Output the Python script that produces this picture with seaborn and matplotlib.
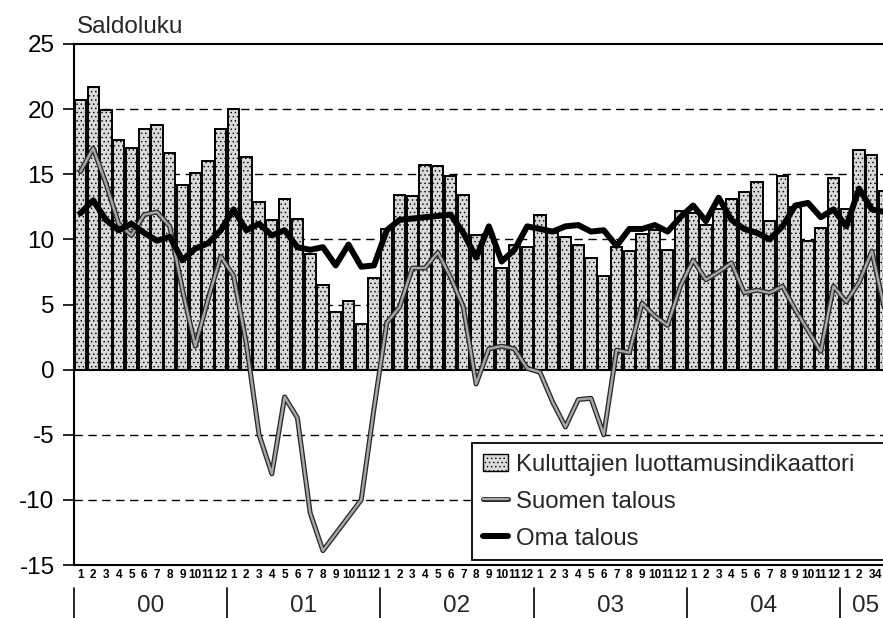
import numpy as np
import pandas as pd
import matplotlib
matplotlib.use('Agg')
import matplotlib.pyplot as plt
import matplotlib.patches as mpatches
import matplotlib.patheffects as pe
import matplotlib.transforms as mtransforms
from matplotlib.lines import Line2D
import seaborn as sns

# kuukausittaiset saldoluvut 1/2000 - 4/2005
years = ['00', '01', '02', '03', '04', '05']
months_per_year = [12, 12, 12, 12, 12, 4]
month_labels = [str(m) for n in months_per_year for m in range(1, n + 1)]

kuluttajat = [20.7, 21.7, 19.9, 17.6, 17.0, 18.5, 18.8, 16.6, 14.2, 15.1, 16.0, 18.5,
              20.0, 16.3, 12.9, 11.5, 13.1, 11.6, 8.9, 6.5, 4.4, 5.3, 3.5, 7.0,
              10.8, 13.4, 13.3, 15.7, 15.6, 14.9, 13.4, 10.3, 10.4, 7.8, 9.6, 9.4,
              11.9, 10.5, 10.2, 9.6, 8.6, 7.2, 9.4, 9.1, 10.4, 10.7, 9.2, 12.2,
              12.0, 11.1, 12.3, 13.1, 13.6, 14.4, 11.4, 14.9, 12.5, 9.9, 10.9, 14.7,
              12.3, 16.9, 16.5, 13.7]

suomen_talous = [15.2, 17.0, 14.3, 11.2, 10.3, 11.9, 12.1, 11.0, 6.1, 1.8, 5.4, 8.7,
                 7.2, 2.0, -5.0, -8.0, -2.1, -3.7, -11.0, -13.9, -12.6, -11.3, -10.0, -3.0,
                 3.6, 4.8, 7.8, 7.8, 9.0, 7.1, 4.8, -1.1, 1.6, 1.8, 1.6, 0.1,
                 -0.2, -2.5, -4.4, -2.3, -2.2, -5.0, 1.5, 1.3, 5.1, 4.1, 3.4, 6.4,
                 8.4, 6.9, 7.5, 8.2, 5.9, 6.1, 5.9, 6.4, 4.6, 3.0, 1.4, 6.4,
                 5.2, 6.7, 9.1, 4.6]

oma_talous = [12.0, 13.0, 11.5, 10.7, 11.2, 10.5, 9.9, 10.2, 8.4, 9.3, 9.7, 10.7,
              12.3, 10.7, 11.2, 10.3, 10.7, 9.4, 9.2, 9.4, 8.0, 9.6, 7.9, 8.0,
              10.7, 11.5, 11.6, 11.7, 11.8, 11.9, 10.5, 8.6, 11.0, 8.3, 9.2, 11.0,
              10.8, 10.6, 11.0, 11.1, 10.6, 10.7, 9.5, 10.8, 10.8, 11.1, 10.6, 11.7,
              12.6, 11.4, 13.2, 11.5, 10.8, 10.5, 10.0, 11.0, 12.6, 12.8, 11.7, 12.3,
              11.0, 13.9, 12.3, 12.1]

df = pd.DataFrame({'kk': np.arange(len(kuluttajat)),
                   'kuluttajat': kuluttajat,
                   'suomen': suomen_talous,
                   'oma': oma_talous})

sns.set_theme(style='white')
plt.rcParams['font.family'] = ['Liberation Sans', 'DejaVu Sans']
plt.rcParams['axes.unicode_minus'] = False
plt.rcParams['hatch.linewidth'] = 0.5

bar_color = '#d9d9d9'
gray_fx = [pe.Stroke(linewidth=3.6, foreground='#2a2a2a'), pe.Normal()]

fig = plt.figure(figsize=(8.83, 6.18), dpi=100)
ax = fig.add_axes([74 / 883, 53 / 618, 817 / 883, 521 / 618])

for v in [20, 15, 10, 5, -5, -10]:
    ax.axhline(v, color='black', lw=1.0, dashes=(6, 4), zorder=0)

sns.barplot(data=df, x='kk', y='kuluttajat', native_scale=True, color=bar_color,
            saturation=1, width=0.88, edgecolor='black', linewidth=1.4, ax=ax, zorder=2)
for bar in ax.patches:
    bar.set_hatch('....')

ax.axhline(0, color='black', lw=1.5, zorder=2.5)

sns.lineplot(data=df, x='kk', y='suomen', color='#a8a8a8', lw=1.7,
             path_effects=gray_fx, ax=ax, zorder=3)
sns.lineplot(data=df, x='kk', y='oma', color='black', lw=4.3, ax=ax, zorder=4)

ax.set_xlim(-0.5, len(kuluttajat) - 0.5)
ax.set_ylim(-15, 25)
ax.set_xlabel('')
ax.set_ylabel('')

ax.set_yticks(range(-15, 26, 5))
ax.set_yticklabels([str(v) for v in range(-15, 26, 5)])
ax.tick_params(axis='y', left=True, direction='out', length=8, width=1.2,
               color='black', labelsize=17.5, pad=6, labelcolor='black')
ax.set_xticks(df['kk'])
ax.set_xticklabels(month_labels, fontsize=8.5, fontweight='bold')
ax.tick_params(axis='x', bottom=False, length=0, pad=3, labelcolor='black')

for side in ['top', 'left', 'bottom']:
    ax.spines[side].set_color('black')
    ax.spines[side].set_linewidth(1.5)
ax.spines['right'].set_visible(False)

trans = ax.get_xaxis_transform()
start = -0.5
for year, n in zip(years, months_per_year):
    ax.plot([start, start], [-0.045, -0.11], transform=trans, color='black',
            lw=1.2, clip_on=False)
    ax.text(start + n / 2, -0.0995, year, transform=trans, ha='center',
            va='bottom', fontsize=17.5)
    start += n

fig.text(77 / 883, (618 - 33) / 618, 'Saldoluku', fontsize=17.5,
         ha='left', va='baseline')

handles = [mpatches.Patch(facecolor=bar_color, edgecolor='black', hatch='....', lw=1),
           Line2D([], [], color='#a8a8a8', lw=1.7, path_effects=gray_fx),
           Line2D([], [], color='black', lw=4.3)]
labels = ['Kuluttajien luottamusindikaattori', 'Suomen talous', 'Oma talous']
leg = ax.legend(handles, labels, loc='upper left', mode='expand',
                bbox_to_anchor=(472 / 883, 60 / 618, 430 / 883, 115 / 618),
                bbox_transform=fig.transFigure, borderaxespad=0, fontsize=17.3,
                frameon=True, fancybox=False, edgecolor='black', framealpha=1,
                handlelength=1.05, handletextpad=0.35, labelspacing=0.62,
                borderpad=0.45)
leg.get_frame().set_linewidth(1.3)
leg.set_zorder(10)

# viimeinen kuukausi osuu kuvan reunaan: siirretään hieman vasemmalle
last = ax.xaxis.get_major_ticks()[-1].label1
last.set_transform(last.get_transform()
                   + mtransforms.ScaledTranslation(-5 / 72, 0, fig.dpi_scale_trans))

fig.savefig('out.png', dpi=100)
